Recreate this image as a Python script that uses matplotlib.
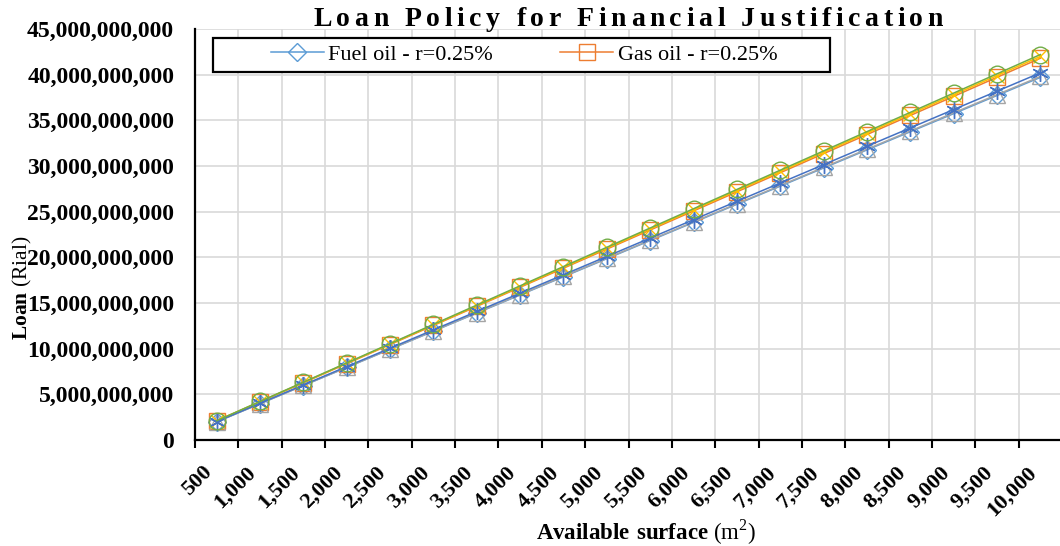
import matplotlib
matplotlib.use("Agg")
import matplotlib.pyplot as plt
from matplotlib.patches import Rectangle
from matplotlib.ticker import FuncFormatter, MultipleLocator

plt.rcParams['font.family'] = ['Liberation Serif', 'DejaVu Serif']
plt.rcParams['mathtext.fontset'] = 'custom'
plt.rcParams['mathtext.rm'] = 'Liberation Serif'
plt.rcParams['mathtext.bf'] = 'Liberation Serif:bold'

# available surface (m2) - category axis
surface = [500, 1000, 1500, 2000, 2500, 3000, 3500, 4000, 4500, 5000,
           5500, 6000, 6500, 7000, 7500, 8000, 8500, 9000, 9500, 10000]
surface_labels = ["{:,}".format(s) for s in surface]

# loan values, billions of rial
fuel_a = [1.99, 3.97, 5.96, 7.94, 9.93, 11.91, 13.90, 15.88, 17.87, 19.85,
          21.84, 23.82, 25.81, 27.79, 29.78, 31.76, 33.75, 35.73, 37.72, 39.70]
gas_a = [2.09, 4.18, 6.27, 8.36, 10.45, 12.54, 14.63, 16.72, 18.81, 20.90,
         22.99, 25.08, 27.17, 29.26, 31.35, 33.44, 35.53, 37.62, 39.71, 41.80]
fuel_b = [1.99, 3.98, 5.97, 7.96, 9.95, 11.94, 13.93, 15.92, 17.91, 19.90,
          21.89, 23.88, 25.87, 27.86, 29.85, 31.84, 33.83, 35.82, 37.81, 39.80]
gas_b = [2.10, 4.20, 6.30, 8.40, 10.50, 12.60, 14.70, 16.80, 18.90, 21.00,
         23.10, 25.20, 27.30, 29.40, 31.50, 33.60, 35.70, 37.80, 39.90, 42.00]
fuel_c = [2.01, 4.02, 6.03, 8.04, 10.05, 12.06, 14.07, 16.08, 18.09, 20.10,
          22.11, 24.12, 26.13, 28.14, 30.15, 32.16, 34.17, 36.18, 38.19, 40.20]
gas_c = [2.11, 4.22, 6.33, 8.44, 10.55, 12.66, 14.77, 16.88, 18.99, 21.10,
         23.21, 25.32, 27.43, 29.54, 31.65, 33.76, 35.87, 37.98, 40.09, 42.20]

legend_labels = ["Fuel oil - r=0.25%", "Gas oil - r=0.25%"]

fig = plt.figure(figsize=(10.6, 5.46), dpi=100)
W, H = 1060, 546
ax = fig.add_axes([195 / W, 106 / H, 867 / W, 411 / H])

x = list(range(len(surface)))
series = [
    (fuel_a, "#5B9BD5", "D", 9),
    (gas_a, "#ED7D31", "s", 11),
    (fuel_b, "#A5A5A5", "^", 11),
    (gas_b, "#FFC000", "x", 10),
    (fuel_c, "#4472C4", (6, 2, 0), 12),
    (gas_c, "#70AD47", "o", 12),
]
lines = []
for vals, c, m, ms in series:
    ln, = ax.plot(x, [v * 1e9 for v in vals], color=c, lw=1.1, marker=m, ms=ms,
                  mfc='none', mec=c, mew=1.0, zorder=3)
    lines.append(ln)

ax.set_xlim(-0.5, len(surface) - 0.5)
ax.set_ylim(0, 45e9)
ax.yaxis.set_major_locator(MultipleLocator(5e9))
ax.yaxis.set_major_formatter(FuncFormatter(lambda v, p: "{:,}".format(int(round(v)))))
ax.tick_params(axis='y', length=0, pad=15, labelsize=17)
for t in ax.get_yticklabels():
    t.set_fontweight('bold')

ax.set_xticks(x)
ax.set_xticklabels(surface_labels, rotation=45, ha='right', fontsize=16, fontweight='bold')
ax.set_xticks([i - 0.5 for i in range(len(surface) + 1)], minor=True)
ax.tick_params(axis='x', which='major', length=0, pad=16)
ax.tick_params(axis='x', which='minor', length=6, width=1.5, direction='out')

ax.set_axisbelow(True)
ax.grid(axis='y', which='major', color='#D9D9D9', lw=1.2)
ax.grid(axis='x', which='minor', color='#D9D9D9', lw=1.2)
for s in ['top', 'right']:
    ax.spines[s].set_visible(False)
for s in ['left', 'bottom']:
    ax.spines[s].set_linewidth(1.6)
    ax.spines[s].set_color('black')

# legend box (Excel style, larger than its content)
box = Rectangle((213 / W, 1 - 72 / H), 617 / W, 34 / H, transform=fig.transFigure,
                facecolor='white', edgecolor='black', lw=1.6, zorder=4, clip_on=False)
ax.add_patch(box)
leg = ax.legend(lines[:2], legend_labels, ncol=2, frameon=False, loc='center',
                bbox_to_anchor=(524 / W, 1 - 55 / H), bbox_transform=fig.transFigure,
                fontsize=16, handlelength=2.4, handletextpad=0.2, columnspacing=3.0)
leg.set_zorder(5)

# axis titles
fig.text(22 / W, 1 - 288 / H, r"$\mathbf{Loan}$ (Rial)", rotation=90,
         ha='center', va='center', fontsize=15.5)
fig.text(646 / W, 1 - 532 / H, r"$\mathbf{Available\ surface}$ (m$^{2}$)",
         ha='center', va='center', fontsize=16.5)

# letter-spaced title
title = "Loan Policy for Financial Justification"
tkw = dict(fontsize=20, fontweight='bold')
r = fig.canvas.get_renderer()

def tw(s):
    t = fig.text(0, 0, s + "|", **tkw)
    w = t.get_window_extent(r).width
    t.remove()
    return w

bar_w = tw("")
natural = tw(title) - bar_w
target = 630
spacing = (target - natural) / (len(title) - 1)
x0 = 628 - target / 2
for i, ch in enumerate(title):
    if ch == " ":
        continue
    px = x0 + (tw(title[:i]) - bar_w) + i * spacing
    fig.text(px / W, 1 - 26 / H, ch, ha='left', va='baseline', **tkw)

fig.savefig("out.png", dpi=100)
